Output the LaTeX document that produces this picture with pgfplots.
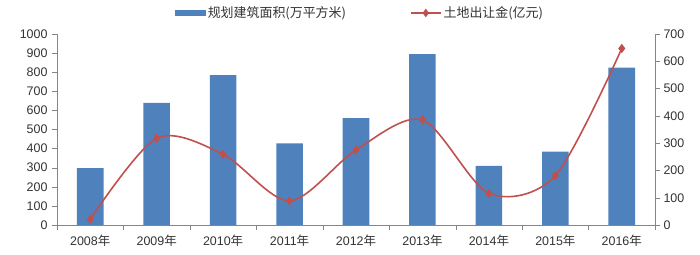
\documentclass[border=0pt]{standalone}
\usepackage{fontspec}
\setmainfont{Liberation Sans}
\newfontfamily\cjk{Noto Sans CJK SC}
\usepackage{pgfplots}
\pgfplotsset{compat=1.18}
\definecolor{barblue}{HTML}{4F81BD}
\definecolor{linered}{HTML}{C0504D}
\definecolor{axgray}{HTML}{868686}
\definecolor{txt}{HTML}{333333}
\begin{document}
\begin{tikzpicture}[font=\fontsize{12.5}{14}\selectfont]
\path[use as bounding box] (-57bp,-30bp) rectangle (643bp,225bp);
\begin{axis}[
  scale only axis, width=598bp, height=191bp,
  xmin=-0.5, xmax=8.5, ymin=0, ymax=1000,
  axis x line*=bottom, axis y line*=left,
  axis line style={axgray},
  ytick={0,100,...,1000},
  xtick={0,...,8},
  xticklabels={2008{\cjk 年},2009{\cjk 年},2010{\cjk 年},2011{\cjk 年},2012{\cjk 年},2013{\cjk 年},2014{\cjk 年},2015{\cjk 年},2016{\cjk 年}},
  minor xtick={-0.5,0.5,...,8.5},
  major x tick style={draw=none},
  minor tick style={axgray},
  major tick style={axgray},
  tick align=outside,
  major tick length=5bp, minor tick length=5bp,
  tick label style={text=txt},
  /pgf/number format/assume math mode=true,
  /pgf/number format/set thousands separator={},
  yticklabel style={xshift=-1bp},
  xticklabel style={yshift=-1bp},
]
\addplot[ybar, bar width=0.4, fill=barblue, draw=none] coordinates {
  (0,298) (1,640) (2,785) (3,428) (4,560) (5,894) (6,309) (7,384) (8,824)};
\end{axis}
\begin{axis}[
  scale only axis, width=598bp, height=191bp,
  xmin=-0.5, xmax=8.5, ymin=0, ymax=700,
  axis x line=none, axis y line*=right,
  axis line style={axgray},
  ytick={0,100,...,700},
  major tick style={axgray},
  tick align=outside, major tick length=5bp,
  tick label style={text=txt},
  /pgf/number format/assume math mode=true,
  legend columns=2,
  legend style={draw=none, at={(0.507,1.11)}, anchor=center, font=\cjk\fontsize{13}{15}\selectfont, text=txt,
    /tikz/every even column/.append style={column sep=62bp}},
]
\addlegendimage{legend image code/.code={\fill[barblue] (0bp,-2.5bp) rectangle (30bp,2.5bp);}}
\addlegendentry{规划建筑面积(万平方米)}
\addplot[linered, line width=1.6pt, smooth, mark=diamond*, mark size=3.4bp, mark options={fill=linered, draw=linered},
  legend image code/.code={\draw[linered, line width=1.6pt] (0bp,0bp) -- (30bp,0bp); \fill[linered] (15bp,0bp) +(0,3bp) -- +(2.2bp,0) -- +(0,-3bp) -- +(-2.2bp,0) -- cycle;}]
  coordinates {(0,21) (1,318) (2,259) (3,88) (4,275) (5,385) (6,116) (7,181) (8,647)};
\addlegendentry{土地出让金(亿元)}
\end{axis}
\end{tikzpicture}
\end{document}
